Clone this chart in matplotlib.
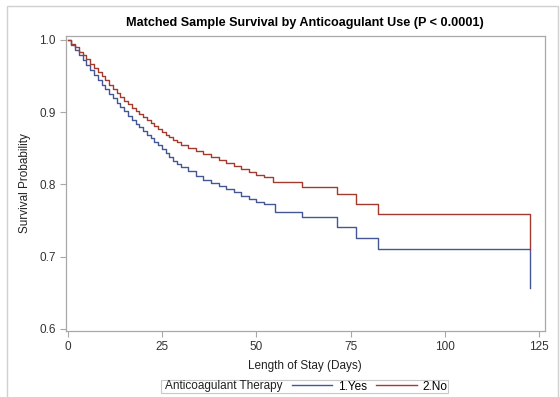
import matplotlib
matplotlib.use("Agg")
import matplotlib.pyplot as plt
from matplotlib.lines import Line2D
from matplotlib.patches import Rectangle

plt.rcParams['font.family'] = ['Liberation Sans', 'DejaVu Sans']

# Kaplan-Meier estimates (days, survival probability)
days_yes = [0, 1, 2, 3, 4, 5, 6, 7, 8, 9, 10, 11, 12, 13, 14, 15, 16, 17, 18, 19, 20,
            21, 22, 23, 24, 25, 26, 27, 28, 29, 30, 32, 34, 36, 38, 40, 42, 44, 46, 48,
            50, 52, 55, 62, 71.5, 76.3, 82.3, 122.5, 122.5]
surv_yes = [1.000, 0.993, 0.986, 0.979, 0.972, 0.965, 0.958, 0.951, 0.945, 0.938, 0.932,
            0.925, 0.919, 0.913, 0.907, 0.901, 0.895, 0.889, 0.884, 0.879, 0.874,
            0.869, 0.864, 0.859, 0.854, 0.849, 0.843, 0.838, 0.833, 0.828, 0.824,
            0.818, 0.812, 0.806, 0.802, 0.798, 0.794, 0.789, 0.784, 0.780,
            0.776, 0.773, 0.762, 0.755, 0.741, 0.726, 0.710, 0.710, 0.656]

days_no = [0, 1, 2, 3, 4, 5, 6, 7, 8, 9, 10, 11, 12, 13, 14, 15, 16, 17, 18, 19, 20,
           21, 22, 23, 24, 25, 26, 27, 28, 29, 30, 32, 34, 36, 38, 40, 42, 44, 46, 48,
           50, 52, 54.5, 62, 71.5, 76.3, 82.3, 122.5, 122.5]
surv_no = [1.000, 0.995, 0.990, 0.984, 0.979, 0.973, 0.967, 0.961, 0.956, 0.950, 0.944,
           0.938, 0.932, 0.927, 0.921, 0.916, 0.911, 0.906, 0.902, 0.897, 0.893,
           0.889, 0.885, 0.881, 0.877, 0.873, 0.869, 0.866, 0.862, 0.859, 0.855,
           0.850, 0.846, 0.842, 0.838, 0.834, 0.830, 0.825, 0.821, 0.817,
           0.813, 0.810, 0.803, 0.796, 0.787, 0.773, 0.759, 0.759, 0.710]

x_ticks = [0, 25, 50, 75, 100, 125]
y_ticks = [0.6, 0.7, 0.8, 0.9, 1.0]
groups = ['1.Yes', '2.No']
colors = ['#445694', '#A23A2E']

fig = plt.figure(figsize=(5.6, 3.97), dpi=100)
ax = fig.add_axes([0.1173, 0.1662, 0.8559, 0.7431])

ax.plot(days_yes, surv_yes, drawstyle='steps-post', color=colors[0], lw=1.0)
ax.plot(days_no, surv_no, drawstyle='steps-post', color=colors[1], lw=1.0)

ax.set_xlim(-0.5, 126.5)
ax.set_ylim(0.597, 1.0055)
ax.set_xticks(x_ticks)
ax.set_yticks(y_ticks)
ax.set_yticklabels([f"{v:.1f}" for v in y_ticks])

gray = '#a8a8a8'
for s in ax.spines.values():
    s.set_color(gray)
    s.set_linewidth(0.9)
ax.tick_params(direction='out', length=4, width=0.8, color=gray,
               labelsize=8.5, labelcolor='#333333', pad=3)

ax.set_xlabel('Length of Stay (Days)', fontsize=8.5, color='#222222', labelpad=5)
ax.set_ylabel('Survival Probability', fontsize=8.5, color='#222222', labelpad=6)
fig.text(0.545, 0.942, 'Matched Sample Survival by Anticoagulant Use (P < 0.0001)',
         ha='center', va='center', fontsize=9.1, fontweight='bold')

# outer border of the graph area
fig.patches.append(Rectangle((7 / 560, -0.01), 551 / 560, 1 - 6 / 397 + 0.01,
                             transform=fig.transFigure, fill=False,
                             edgecolor='#d0d0d0', lw=1.0))

# legend: frame, label, then the two group entries
fig.patches.append(Rectangle((161 / 560, 1 - 393 / 397), 287 / 560, 13 / 397,
                             transform=fig.transFigure, fill=False,
                             edgecolor='#c8c8c8', lw=0.8))
fig.text(165 / 560, 1 - 386.5 / 397, 'Anticoagulant Therapy', ha='left', va='center',
         fontsize=8.5, color='#222222')
handles = [Line2D([], [], color=c, lw=1.0) for c in colors]
fig.legend(handles, groups, loc='center left', bbox_to_anchor=(292 / 560, 1 - 386.5 / 397),
           ncol=2, frameon=False, fontsize=8.5, handlelength=3.4, handletextpad=0.5,
           columnspacing=0.8, borderpad=0, borderaxespad=0)

fig.savefig('out.png', dpi=100)
